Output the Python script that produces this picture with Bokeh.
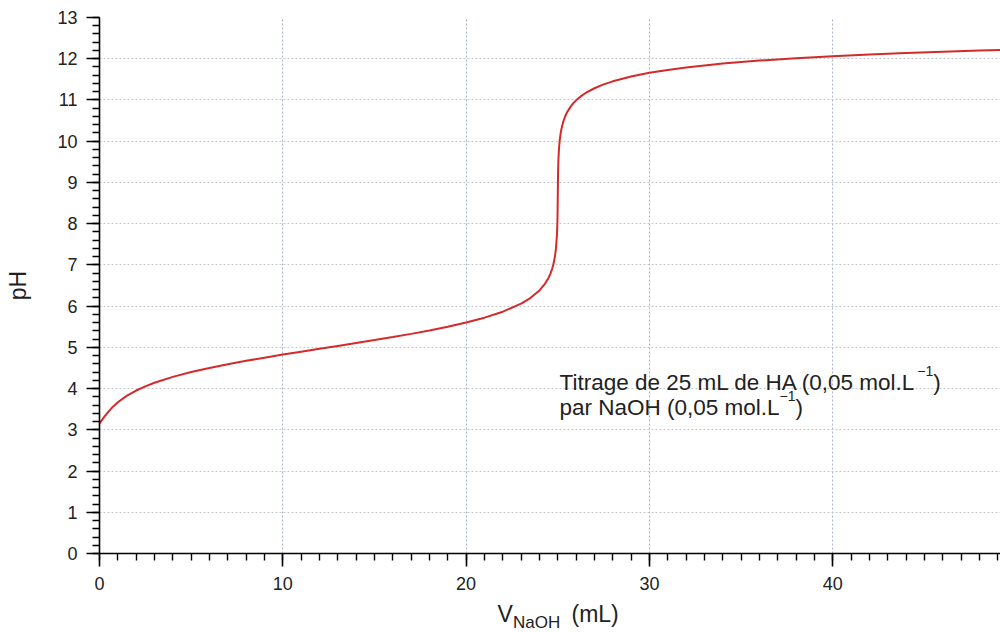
from bokeh.plotting import figure
from bokeh.layouts import column
from bokeh.models import FixedTicker, Label, ColumnDataSource
from bokeh.embed import file_html
from bokeh.resources import INLINE

# Titration of 25 mL HA (0.05 mol/L) by NaOH (0.05 mol/L)
volume_ml = [0, 0.1, 0.25, 0.5, 0.75, 1, 1.5, 2, 2.5, 3, 4, 5, 6, 7, 8, 9, 10,
             11, 12, 13, 14, 15, 16, 17, 18, 19, 20, 21, 22, 23, 23.5, 24,
             24.3, 24.5, 24.6, 24.7, 24.75, 24.8, 24.85, 24.9, 24.95, 24.97,
             24.98, 24.99, 25, 25.01, 25.02, 25.03, 25.05, 25.07, 25.1, 25.15,
             25.2, 25.3, 25.4, 25.5, 25.7, 25.85, 26, 26.25, 26.5, 27, 27.5,
             28, 29, 30, 31, 32, 34, 35, 36, 38, 40, 42, 44, 46, 48, 49.15]
ph = [3.154, 3.217, 3.308, 3.448, 3.567, 3.668, 3.829, 3.953, 4.055, 4.141,
      4.284, 4.400, 4.501, 4.591, 4.673, 4.750, 4.824, 4.895, 4.965, 5.035,
      5.105, 5.176, 5.250, 5.327, 5.410, 5.501, 5.602, 5.720, 5.865, 6.061,
      6.195, 6.380, 6.541, 6.690, 6.789, 6.916, 6.996, 7.093, 7.219, 7.400,
      7.695, 7.909, 8.072, 8.316, 8.700, 9.082, 9.326, 9.489, 9.703, 9.847,
      10.000, 10.175, 10.300, 10.475, 10.599, 10.695, 10.839, 10.922, 10.991,
      11.086, 11.163, 11.284, 11.377, 11.452, 11.569, 11.658, 11.729, 11.788,
      11.882, 11.921, 11.955, 12.014, 12.062, 12.103, 12.139, 12.170, 12.197,
      12.212]

x_major = [0, 10, 20, 30, 40]
x_minor = list(range(0, 50))
y_major = list(range(0, 14))
y_minor = [i / 5 for i in range(0, 66)]

FONT = "Liberation Sans"
TEXT_COLOR = "#222222"

p = figure(width=1000, height=598, x_range=(0, 49.15), y_range=(0, 13),
           title=None, output_backend="svg", toolbar_location=None,
           min_border_left=99, min_border_right=0, min_border_top=17,
           min_border_bottom=45)
p.outline_line_color = None
p.background_fill_color = "white"
p.border_fill_color = "white"

# grid: dotted, light
p.xgrid.ticker = FixedTicker(ticks=[10, 20, 30, 40])
p.ygrid.ticker = FixedTicker(ticks=list(range(1, 14)))
p.xgrid.grid_line_color = "#a9b2cf"
p.ygrid.grid_line_color = "#c4c6ce"
p.xgrid.grid_line_dash = "2 2"
p.ygrid.grid_line_dash = "2 2"
p.xgrid.grid_line_width = 1
p.ygrid.grid_line_width = 1

for ax in (p.xaxis[0], p.yaxis[0]):
    ax.axis_line_color = "black"
    ax.axis_line_width = 1.6
    ax.major_tick_line_color = "black"
    ax.minor_tick_line_color = "black"
    ax.major_tick_line_width = 1.6
    ax.minor_tick_line_width = 1.4
    ax.major_tick_in = 0
    ax.minor_tick_in = 0
    ax.major_tick_out = 13
    ax.minor_tick_out = 7
    ax.major_label_text_font = FONT
    ax.major_label_text_font_size = "18px"
    ax.major_label_text_color = TEXT_COLOR

p.xaxis[0].ticker = FixedTicker(ticks=x_major, minor_ticks=x_minor)
p.yaxis[0].ticker = FixedTicker(ticks=y_major, minor_ticks=y_minor)
p.xaxis[0].major_label_standoff = 10
p.xaxis[0].axis_label = None
p.xaxis[0].axis_label_standoff = 0
p.yaxis[0].major_label_standoff = 9

p.yaxis[0].axis_label = "pH"
p.yaxis[0].axis_label_text_font = FONT
p.yaxis[0].axis_label_text_font_size = "23px"
p.yaxis[0].axis_label_text_font_style = "normal"
p.yaxis[0].axis_label_text_color = TEXT_COLOR
p.yaxis[0].axis_label_standoff = 23

src = ColumnDataSource(dict(v=volume_ml, ph=ph))
p.line("v", "ph", source=src, line_color="#d42a2a", line_width=2)


def add_text(fig, txt, sx, sy, size):
    fig.add_layout(Label(x=sx, y=sy, x_units="screen", y_units="screen",
                         text=txt, text_font=FONT, text_font_size=size,
                         text_color=TEXT_COLOR, text_baseline="alphabetic",
                         text_align="left"))


# annotation with superscripts
add_text(p, "Titrage de 25 mL de HA (0,05 mol.L", 460, 171, "22.5px")
add_text(p, "\u22121", 817.7, 183, "14px")
add_text(p, ")", 833.7, 171, "22.5px")
add_text(p, "par NaOH (0,05 mol.L", 460, 146, "22.5px")
add_text(p, "\u22121", 680.1, 158, "14px")
add_text(p, ")", 696.1, 146, "22.5px")

# strip under the plot holding the x-axis title (with subscript);
# its frame lines up with the plot frame, so positions are frame-relative
title_strip = figure(width=1000, height=34, x_range=p.x_range, y_range=(0, 34),
                     title=None, output_backend="svg", toolbar_location=None,
                     x_axis_type=None, y_axis_type=None,
                     min_border_left=99, min_border_right=0,
                     min_border_top=0, min_border_bottom=0)
title_strip.outline_line_color = None
title_strip.grid.visible = False
title_strip.background_fill_color = "white"
title_strip.border_fill_color = "white"
add_text(title_strip, "V", 398, 19, "23px")
add_text(title_strip, "NaOH", 413.5, 10, "17px")
add_text(title_strip, "(mL)", 472, 19, "23px")

layout = column(p, title_strip, spacing=0)
open("out.html", "w").write(file_html(layout, INLINE))
